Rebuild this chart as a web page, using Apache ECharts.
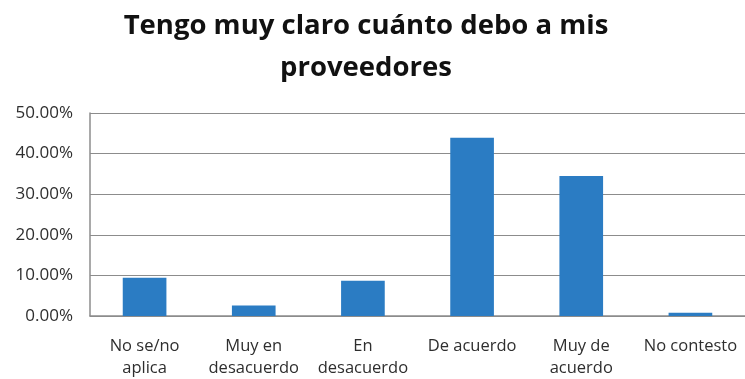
<!DOCTYPE html>
<html>
<head>
<meta charset="utf-8">
<script src="https://cdn.jsdelivr.net/npm/echarts@6/dist/echarts.min.js"></script>
<style>
  html, body { margin: 0; padding: 0; background: #ffffff; }
  #chart { width: 745px; height: 379px; }
</style>
</head>
<body>
<div id="chart"></div>
<script>
// Survey answers: share of respondents per option (percent)
const categories = [
  'No se/no\naplica',
  'Muy en\ndesacuerdo',
  'En\ndesacuerdo',
  'De acuerdo',
  'Muy de\nacuerdo',
  'No contesto'
];
const shares = [9.4, 2.6, 8.7, 43.9, 34.5, 0.8];
const yTicks = { min: 0, max: 50, step: 10 };
const titleText = 'Tengo muy claro cuánto debo a mis\nproveedores';

const chart = echarts.init(document.getElementById('chart'), null, { renderer: 'canvas' });

chart.setOption({
  animation: false,
  backgroundColor: '#ffffff',
  title: {
    text: titleText,
    left: 366,
    top: 5,
    padding: 0,
    textAlign: 'center',
    textStyle: {
      fontFamily: 'Open Sans',
      fontWeight: 'bold',
      fontSize: 27.5,
      lineHeight: 42,
      color: '#111111'
    }
  },
  grid: {
    left: 90,
    top: 113,
    width: 658,
    height: 207,
    containLabel: false
  },
  xAxis: {
    type: 'category',
    data: categories,
    axisLine: { show: true, lineStyle: { color: '#8c8c8c', width: 1.5 } },
    axisTick: { show: false },
    axisLabel: {
      interval: 0,
      margin: 19,
      fontFamily: 'Open Sans',
      fontSize: 16.5,
      lineHeight: 22,
      color: '#2e2e2e',
      verticalAlign: 'top'
    }
  },
  yAxis: {
    type: 'value',
    min: yTicks.min,
    max: yTicks.max,
    interval: yTicks.step,
    axisLine: { show: true, lineStyle: { color: '#8c8c8c', width: 1.5 } },
    axisTick: { show: false },
    splitLine: { show: true, lineStyle: { color: '#8c8c8c', width: 1.2 } },
    axisLabel: {
      margin: 17,
      fontFamily: 'Open Sans',
      fontSize: 17,
      color: '#2e2e2e',
      formatter: v => v.toFixed(2) + '%'
    }
  },
  series: [{
    type: 'bar',
    data: shares,
    barWidth: '40%',
    itemStyle: { color: '#2b7cc3' }
  }]
});
</script>
</body>
</html>
